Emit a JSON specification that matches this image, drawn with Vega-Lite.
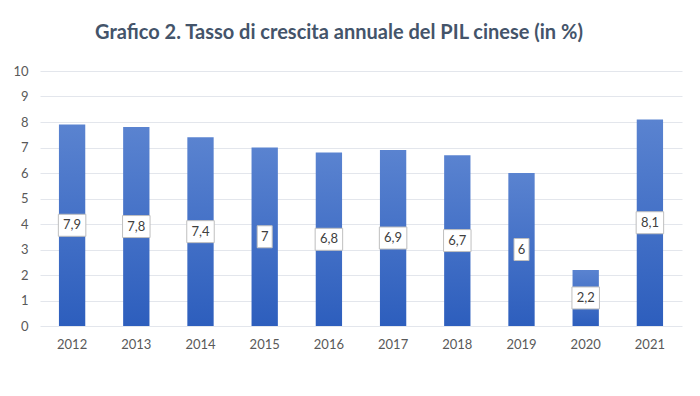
{
  "$schema": "https://vega.github.io/schema/vega-lite/v6.json",
  "width": 642,
  "height": 255,
  "autosize": {"type": "none"},
  "padding": {"left": 40, "top": 71, "right": 18, "bottom": 70},
  "background": "white",
  "config": {
    "font": "Lato",
    "locale": {"number": {"decimal": ",", "thousands": ".", "grouping": [3], "currency": ["€", ""]}},
    "view": {"stroke": null},
    "axisY": {
      "title": null,
      "labelOverlap": false,
      "labelColor": "#595959",
      "labelFontSize": 13,
      "labelPadding": 12,
      "ticks": false,
      "domain": false,
      "gridColor": "#E3E6EC",
      "gridWidth": 1
    }
  },
  "title": {
    "text": "Grafico 2. Tasso di crescita annuale del PIL cinese (in %)",
    "font": "Lato",
    "fontSize": 20,
    "fontWeight": "bold",
    "color": "#44546A",
    "anchor": "middle",
    "dx": -22,
    "offset": 22
  },
  "data": {
    "values": [
      {"anno": "2012", "crescita": 7.9},
      {"anno": "2013", "crescita": 7.8},
      {"anno": "2014", "crescita": 7.4},
      {"anno": "2015", "crescita": 7.0},
      {"anno": "2016", "crescita": 6.8},
      {"anno": "2017", "crescita": 6.9},
      {"anno": "2018", "crescita": 6.7},
      {"anno": "2019", "crescita": 6.0},
      {"anno": "2020", "crescita": 2.2},
      {"anno": "2021", "crescita": 8.1}
    ]
  },
  "transform": [{"calculate": "datum.crescita / 2", "as": "meta"}],
  "encoding": {
    "x": {
      "field": "anno",
      "type": "ordinal",
      "scale": {"paddingInner": 0.59, "paddingOuter": 0.295},
      "axis": {
        "title": null,
        "labelAngle": 0,
        "labelColor": "#595959",
        "labelFontSize": 13,
        "labelPadding": 12,
        "ticks": false,
        "domain": false,
        "grid": false
      }
    }
  },
  "layer": [
    {
      "mark": {
        "type": "bar",
        "color": {
          "gradient": "linear",
          "x1": 0, "y1": 0, "x2": 0, "y2": 1,
          "stops": [
            {"offset": 0, "color": "#5A83D0"},
            {"offset": 1, "color": "#2D5EBD"}
          ]
        }
      },
      "encoding": {
        "y": {"field": "crescita", "type": "quantitative", "scale": {"domain": [0, 10], "nice": false},
              "axis": {"values": [0, 1, 2, 3, 4, 5, 6, 7, 8, 9, 10], "tickCount": 11}}
      }
    },
    {
      "transform": [{"filter": "datum.crescita % 1 != 0"}],
      "mark": {
        "type": "point",
        "shape": "M-1,-0.8H1V0.8H-1Z",
        "size": 756,
        "filled": true,
        "fill": "white",
        "stroke": "#BFBFBF",
        "strokeWidth": 1,
        "opacity": 1
      },
      "encoding": {"y": {"field": "meta", "type": "quantitative", "scale": {"domain": [0, 10], "nice": false},
              "axis": {"values": [0, 1, 2, 3, 4, 5, 6, 7, 8, 9, 10], "tickCount": 11}}}
    },
    {
      "transform": [{"filter": "datum.crescita % 1 == 0"}],
      "mark": {
        "type": "point",
        "shape": "M-1,-1.4667H1V1.4667H-1Z",
        "size": 225,
        "filled": true,
        "fill": "white",
        "stroke": "#BFBFBF",
        "strokeWidth": 1,
        "opacity": 1
      },
      "encoding": {"y": {"field": "meta", "type": "quantitative", "scale": {"domain": [0, 10], "nice": false},
              "axis": {"values": [0, 1, 2, 3, 4, 5, 6, 7, 8, 9, 10], "tickCount": 11}}}
    },
    {
      "mark": {"type": "text", "color": "#404040", "fontSize": 13, "baseline": "middle", "align": "center"},
      "encoding": {
        "y": {"field": "meta", "type": "quantitative", "scale": {"domain": [0, 10], "nice": false},
              "axis": {"values": [0, 1, 2, 3, 4, 5, 6, 7, 8, 9, 10], "tickCount": 11}},
        "text": {"field": "crescita", "type": "quantitative", "format": ".1~f"}
      }
    }
  ]
}
